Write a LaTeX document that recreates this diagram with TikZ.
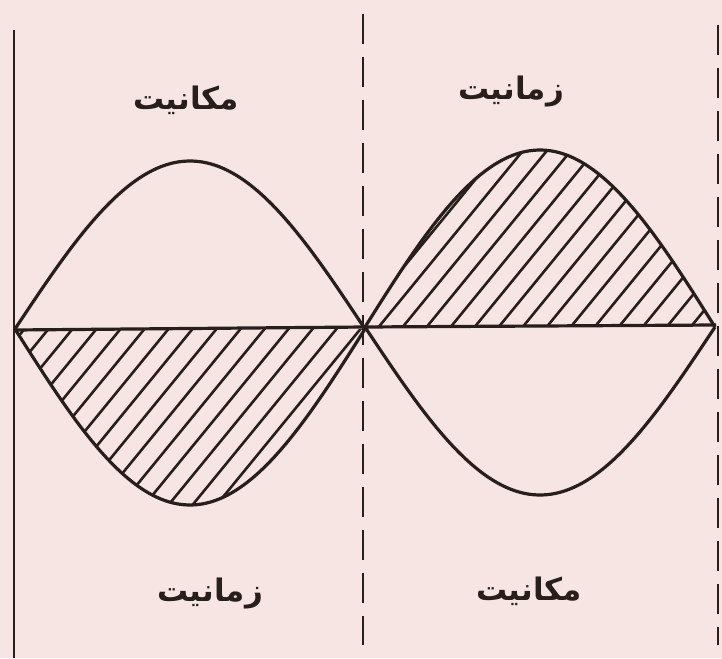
\documentclass[tikz,border=0pt]{standalone}
\usepackage{fontspec}
\newfontfamily\arabicfont[Script=Arabic]{DejaVu Sans}
\TeXXeTstate=1
\definecolor{paper}{RGB}{246,229,227}
\definecolor{ink}{RGB}{40,30,28}
\begin{document}
\begin{tikzpicture}[x=1pt,y=-1pt,
  curve/.style={draw=ink,line width=3.2},
  hatchline/.style={draw=ink,line width=2.6},
  vline/.style={draw=ink,line width=2.6},
  dline/.style={draw=ink,line width=2.8,dash pattern=on 30 off 13},
  lbl/.style={text=ink,font=\arabicfont\bfseries\fontsize{31}{34}\selectfont,inner sep=0}]
\fill[paper] (0,0) rectangle (722,658);
\useasboundingbox (0,0) rectangle (722,658);
% hatching left lower
\begin{scope}
\clip plot[domain=15:365,samples=80,smooth] (\x,{329+176*sin((\x-15)/350*180)}) -- cycle;
\foreach \i in {-140,-116,...,400} \draw[hatchline] (\i,530) -- ++(180,-220);
\end{scope}
% hatching right upper
\begin{scope}
\clip plot[domain=365:715,samples=80,smooth] (\x,{327-177*sin((\x-365)/350*180)}) -- cycle;
\foreach \i in {200,224,...,740} \draw[hatchline] (\i,340) -- ++(180,-220);
\end{scope}
% curves
\draw[curve] plot[domain=15:365,samples=80,smooth] (\x,{329-168*sin((\x-15)/350*180)});
\draw[curve] plot[domain=15:365,samples=80,smooth] (\x,{329+176*sin((\x-15)/350*180)});
\draw[curve] plot[domain=365:715,samples=80,smooth] (\x,{327-177*sin((\x-365)/350*180)});
\draw[curve] plot[domain=365:715,samples=80,smooth] (\x,{327+168*sin((\x-365)/350*180)});
% axis
\coordinate (a0) at (15,330);
\coordinate (a1) at (365,327);
\coordinate (a2) at (716,325);
\draw[curve] (a0) -- (a1) -- (a2);
% vertical lines
\coordinate (l0) at (14,30);
\coordinate (l1) at (14,658);
\draw[vline] (l0) -- (l1);
\coordinate (m0) at (363,14);
\coordinate (m1) at (363,645);
\draw[dline] (m0) -- (m1);
\coordinate (r0) at (718,25);
\coordinate (r1) at (718,645);
\draw[dline] (r0) -- (r1);
% labels
\node[lbl] (tl) at (186,100) {\beginR مکانیت\endR};
\node[lbl] (tr) at (511,92) {\beginR زمانیت\endR};
\node[lbl] (bl) at (210,593) {\beginR زمانیت\endR};
\node[lbl] (br) at (529,591) {\beginR مکانیت\endR};
\end{tikzpicture}
\end{document}
